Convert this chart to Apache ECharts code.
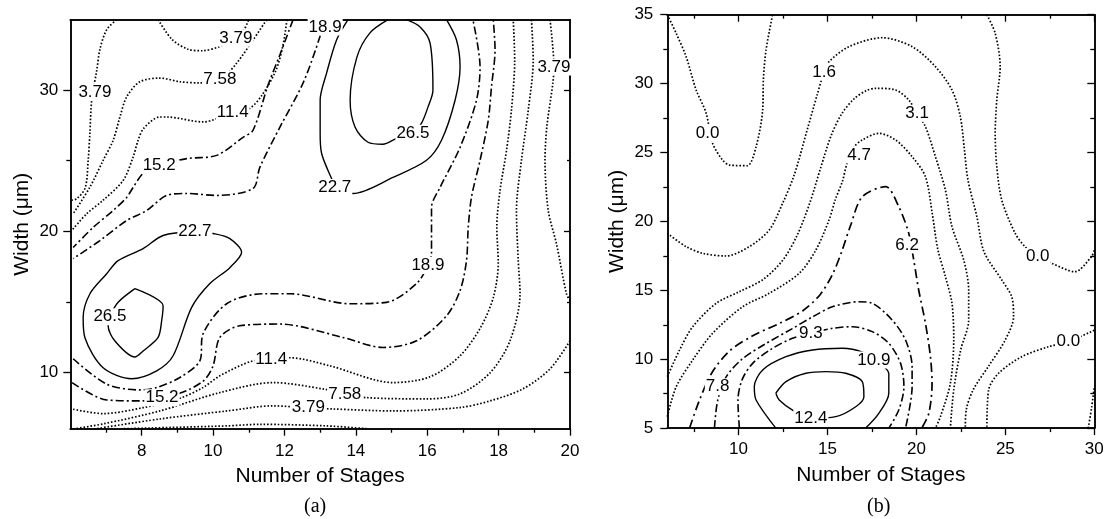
<!DOCTYPE html>
<html>
<head>
<meta charset="utf-8">
<script src="https://cdn.jsdelivr.net/npm/echarts@6/dist/echarts.min.js"></script>
<style>
  html, body { margin: 0; padding: 0; background: #fff; }
  #chart { width: 1108px; height: 519px; }
</style>
</head>
<body>
<div id="chart"></div>
<script>
// ---------- panel (a): contour lines, [stages, width] ----------
const a379Left  = [[7.3,35],[7.02,34.3],[6.83,32.9],[6.74,31.4],[6.6,29.3],[6.55,27],[6.5,25],[6.42,23.1],[6.18,22.3],[6.0,22.2]];
const a379Top   = [[8.46,35],[8.85,33.6],[9.3,32.9],[9.7,32.8],[10.2,33.1],[10.7,33.6],[11.0,35]];
const a758Top   = [[11.5,35],[11.12,33.56],[10.66,31.92],[10.22,30.79],[9.63,30.52],[9.07,30.6],[8.51,30.86],[7.95,30.6],[7.58,29.53],[7.39,28.1],[7.2,26.45],[6.92,25.03],[6.55,23.13],[6.08,21.24]];
const a114Top   = [[12.07,35],[11.96,33.2],[11.76,31.4],[11.37,29.65],[11.03,28.72],[10.56,28.44],[9.72,27.75],[8.7,28.1],[8.5,28.1],[8.05,27.28],[7.9,26.45],[7.76,25.26],[7.48,23.6],[6.92,22.2],[6.46,21.24],[6.04,20.05]];
const a152Top   = [[12.24,35],[11.87,32.5],[11.54,30.36],[11.12,27.16],[10.84,26.66],[10.1,25.38],[9.26,25.15],[8.48,24.67],[8.04,24.1],[7.76,23.11],[7.58,22.4],[7.2,21.47],[6.64,20.27],[6.08,18.85]];
const a189Top   = [[13.1,35],[12.99,33.77],[12.52,30.5],[11.87,27.37],[11.31,24.53],[11.12,23.04],[10.1,22.54],[9.26,22.68],[8.7,22.54],[8.14,21.47],[7.58,20.76],[6.83,19.34],[6.08,18.06]];
const a227Top   = [[13.78,35],[13.46,33.56],[13.18,31.21],[13.0,29.29],[13.0,26.95],[13.04,25.53],[13.28,23.97],[13.47,23.11],[13.92,22.68],[15.04,23.82],[15.98,25.03],[16.4,26.45],[16.78,29.29],[16.92,31.64],[16.82,33.56],[16.54,35]];
const a265Top   = [[14.9,35],[14.39,34.05],[14.03,32.35],[13.84,29.29],[13.98,27.37],[14.34,26.31],[14.76,26.17],[15.14,26.59],[15.6,26.95],[15.84,27.66],[16.02,28.8],[16.16,30.0],[16.08,33.34],[15.8,34.48],[15.42,35]];
const a265Low   = [[7.81,15.93],[8.6,14.72],[8.56,13.66],[8.46,12.47],[8.04,11.51],[7.81,11.08],[7.25,12.22],[7.06,13.3],[7.11,13.94],[7.34,14.96],[7.81,15.93]];
const a227Low   = [[9.49,20.0],[8.6,19.7],[8.04,18.77],[7.34,17.92],[7.02,16.99],[6.55,15.57],[6.36,13.87],[6.41,12.45],[6.92,10.32],[7.72,9.54],[8.42,10.1],[8.88,11.17],[9.4,14.6],[9.91,16.29],[10.47,17.42],[10.8,18.51],[10.47,19.48],[10.0,19.84],[9.49,20.0]];
const a189Low   = [[6.08,10.96],[7.02,9.16],[7.95,8.75],[8.42,8.92],[9.07,9.63],[9.63,10.81],[9.72,12.73],[10.38,14.86],[11.4,15.57],[12.15,15.57],[13.83,14.86],[14.86,14.96],[15.7,16.29],[16.02,17.57],[16.12,18.42],[16.12,21.69],[16.36,23.11],[16.92,25.95],[17.38,29.29],[17.48,31.64],[17.28,35]];
const a152Low   = [[6.05,9.27],[7.02,8.04],[7.95,7.97],[9.02,8.47],[9.73,9.39],[10.0,10.46],[10.19,12.47],[10.75,13.3],[11.87,13.42],[13.64,12.47],[14.76,11.76],[15.7,12.23],[16.54,14.0],[16.92,15.79],[17.1,17.92],[17.15,20.29],[17.24,22.42],[17.48,25.03],[17.71,27.87],[17.8,30.24],[17.9,32.85],[17.85,35]];
const a114Low   = [[6.08,7.38],[6.92,7.07],[8.04,7.49],[9.02,8.11],[9.72,8.92],[10.19,9.75],[11.12,10.81],[12.16,11.03],[13.27,10.46],[15.04,9.27],[16.08,9.68],[16.92,11.17],[17.5,13.2],[17.85,15.3],[17.99,17.7],[17.95,20.3],[18.04,22.9],[18.22,25.7],[18.36,28.6],[18.45,32.1],[18.41,35]];
const a758Low   = [[6.08,5.98],[6.92,6.34],[8.51,7.26],[10.19,8.56],[11.68,9.27],[13.08,8.82],[13.69,8.47],[14.31,8.2],[15.99,8.11],[16.92,8.47],[17.76,9.96],[18.32,12.24],[18.6,15.58],[18.55,17.92],[18.5,21.47],[18.64,25.03],[18.83,28.58],[18.97,32.14],[18.92,35]];
const a379Right = [[19.44,35],[19.55,31.64],[19.52,30.5],[19.35,27.4],[19.3,25.03],[19.39,21.47],[19.62,19.12],[19.9,15.58],[20,15.08]];
const a379Low   = [[20,12.23],[19.44,10.24],[18.68,8.82],[17.76,7.97],[16.92,7.5],[15.04,7.26],[13.36,7.4],[12.69,7.47],[11.68,7.62],[10.39,7.26],[8.51,6.69],[6.55,5.93]];
const a0Low     = [[7.5,6],[10.38,6.2],[11.31,6.31],[13.18,6.2],[14.3,6]];

const aLabels = [
  [6.69,29.88,'3.79'],[10.64,33.68,'3.79'],[10.19,30.76,'7.58'],[10.55,28.46,'11.4'],
  [8.49,24.67,'15.2'],[13.14,34.48,'18.9'],[13.41,23.11,'22.7'],[15.6,26.95,'26.5'],
  [7.11,13.94,'26.5'],[9.49,20.0,'22.7'],[16.02,17.57,'18.9'],[8.57,8.2,'15.2'],
  [11.63,10.94,'11.4'],[13.69,8.45,'7.58'],[12.67,7.5,'3.79'],[19.55,31.64,'3.79']
];

// ---------- panel (b): contour lines, [stages, width] ----------
const b00TopLeft  = [[6.0,35],[6.5,33.65],[7.06,31.95],[7.62,29.54],[8.18,27.87],[8.54,25.69],[9.1,24.46],[9.49,24.09],[10.49,24.04],[10.99,25.42],[11.36,28.08],[11.4,30.26],[11.55,32.44],[11.92,35]];
const b16         = [[6.0,19.14],[7.06,18.17],[8.0,17.68],[9.3,17.49],[10.6,18.16],[11.73,19.38],[12.48,21.31],[13.13,23.35],[13.86,26.63],[14.42,29.17],[14.81,30.84],[15.09,31.59],[16.21,32.68],[18.08,33.33],[19.76,32.68],[21.07,31.23],[22.0,29.54],[22.47,27.6],[22.7,25.2],[22.9,23.0],[23.4,20.34],[23.8,17.8],[24.8,15.75],[25.36,14.53],[25.46,13.08],[24.99,11.39],[24.06,9.5],[23.2,7.8],[22.8,6.3],[22.75,5.0]];
const b31         = [[6.0,8.73],[6.69,10.67],[7.43,12.36],[8.75,14.06],[10.05,14.9],[11.4,15.8],[12.5,17.2],[13.3,19.0],[14.0,21.3],[14.6,23.8],[15.2,26.2],[15.8,27.8],[16.5,28.9],[17.2,29.5],[17.71,29.66],[18.83,29.54],[19.57,28.81],[20.04,27.84],[20.51,26.87],[21.07,24.7],[21.63,22.28],[22.0,19.62],[22.66,17.2],[22.94,15.02],[22.94,12.84],[22.49,10.67],[22.1,7.77],[21.91,5.0]];
const b47         = [[6.0,5.83],[6.5,8.0],[7.43,9.94],[8.55,11.88],[10.24,13.81],[11.73,14.78],[13.41,16.23],[14.35,17.92],[15.09,20.1],[15.45,21.6],[15.84,22.9],[16.1,24.2],[16.5,25.4],[16.96,25.91],[17.89,26.39],[18.83,25.91],[19.76,24.7],[20.51,23.24],[20.9,20.5],[21.2,18.0],[21.63,16.0],[22.0,14.06],[22.1,11.5],[21.91,8.25],[21.35,5.83],[21.07,5.0]];
const b62         = [[7.25,5.0],[7.8,7.0],[8.5,9.0],[9.5,10.6],[10.8,11.7],[12.3,12.6],[13.6,13.5],[14.6,14.7],[15.3,16.2],[15.8,17.8],[16.3,19.7],[16.96,21.79],[18.27,22.52],[19.01,21.07],[19.57,19.14],[19.85,17.2],[20.13,15.02],[20.51,12.6],[20.79,10.18],[20.88,8.25],[20.7,6.07],[20.3,5.0]];
const b78         = [[8.65,5.0],[8.83,7.0],[9.3,8.7],[10.2,10.0],[11.5,11.1],[13.0,12.2],[14.2,13.1],[15.28,13.8],[16.77,14.17],[17.52,14.06],[18.64,12.84],[19.39,11.39],[19.76,9.46],[19.76,8.0],[19.39,5.0]];
const b93         = [[10.05,5.0],[9.97,7.0],[10.2,8.5],[10.8,9.7],[11.8,10.7],[13.0,11.5],[14.07,11.88],[15.28,12.24],[16.4,12.36],[17.52,12.0],[18.45,11.15],[19.11,9.7],[19.3,8.0],[19.01,6.31],[18.45,5.0]];
const b109        = [[12.1,5.0],[10.99,7.04],[10.89,8.0],[11.36,9.22],[12.67,10.18],[14.16,10.67],[15.84,10.79],[17.0,10.5],[17.61,9.94],[18.45,8.98],[18.45,7.53],[17.89,6.07],[17.15,5.0]];
const b124        = [[12.1,7.53],[12.67,8.37],[13.79,8.98],[14.91,9.1],[16.03,8.98],[16.96,8.37],[17.05,7.28],[16.59,6.55],[15.47,5.83],[14.07,5.71],[13.04,6.31],[12.29,7.04],[12.1,7.53]];
const b00TopRight = [[23.96,35],[24.43,33.65],[24.71,31.23],[24.52,28.81],[24.43,26.39],[24.52,23.97],[24.8,21.55],[25.55,19.14],[26.11,18.16],[26.8,17.44],[27.6,16.96],[28.91,16.35],[29.84,17.44],[30,17.9]];
const b00LowRight = [[30,12.1],[29.84,12.0],[28.54,11.27],[27.42,10.9],[25.92,10.18],[24.62,8.98],[24.06,7.77],[23.96,5.0]];
const b00Corner   = [[29.66,5.0],[29.85,6.5],[30,8.0]];

const bLabels = [
  [8.27,26.4,'0.0'],[14.81,30.84,'1.6'],[20.04,27.84,'3.1'],[16.78,24.82,'4.7'],
  [19.48,18.29,'6.2'],[26.82,17.44,'0.0'],[28.54,11.27,'0.0'],[8.83,8.0,'7.8'],
  [14.07,11.88,'9.3'],[17.61,9.94,'10.9'],[14.07,5.71,'12.4']
];

// ---------- axis ticks ----------
const aXMajor = [8, 10, 12, 14, 16, 18, 20];
const aXMinor = [7, 9, 11, 13, 15, 17, 19];
const aYMajor = [10, 20, 30];
const aYMinor = [15, 25];
const bXMajor = [10, 15, 20, 25, 30];
const bXMinor = [7.5, 12.5, 17.5, 22.5, 27.5];
const bYMajor = [5, 10, 15, 20, 25, 30, 35];
const bYMinor = [7.5, 12.5, 17.5, 22.5, 27.5, 32.5];

const FONT = 'Liberation Sans, Arial, Helvetica, sans-serif';
const INK = '#000';

var chart = echarts.init(document.getElementById('chart'), null, { renderer: 'canvas' });

// one axis: ticks only where we say, labels optional
function axis(gridIndex, position, min, max, ticks, len, inside, withLabels, name) {
  var a = {
    type: 'value',
    gridIndex: gridIndex,
    position: position,
    offset: 0,
    min: min,
    max: max,
    axisLine: { show: true, onZero: false, lineStyle: { color: INK, width: 1.5 } },
    axisTick: { show: true, inside: inside, length: len, customValues: ticks, lineStyle: { color: INK, width: 1.3 } },
    axisLabel: { show: withLabels, customValues: ticks, color: INK, fontFamily: FONT, fontSize: 17, margin: 11 },
    splitLine: { show: false }
  };
  if (name) {
    a.name = name;
    a.nameLocation = 'middle';
    a.nameTextStyle = { color: INK, fontFamily: FONT, fontSize: 21 };
  }
  return a;
}

var xAxes = [
  axis(0, 'bottom', 6, 20, aXMajor, 7, false, true, 'Number of Stages'),
  axis(0, 'bottom', 6, 20, aXMinor, 4, false, false),
  axis(0, 'top', 6, 20, [], 0, true, false),
  axis(0, 'top', 6, 20, [], 0, true, false),
  axis(1, 'bottom', 6, 30, bXMajor, 7, false, true, 'Number of Stages'),
  axis(1, 'bottom', 6, 30, bXMinor, 4, false, false),
  axis(1, 'top', 6, 30, bXMajor, 7, true, false),
  axis(1, 'top', 6, 30, bXMinor, 4, true, false)
];
xAxes[0].nameGap = 37;
xAxes[0].axisLabel.margin = 14;
xAxes[4].nameGap = 37;
xAxes[4].axisLabel.margin = 13;

var yAxes = [
  axis(0, 'left', 6, 35, aYMajor, 7, false, true, 'Width (\u03bcm)'),
  axis(0, 'left', 6, 35, aYMinor, 4, false, false),
  axis(0, 'right', 6, 35, aYMajor, 6, true, false),
  axis(0, 'right', 6, 35, aYMinor, 3, true, false),
  axis(1, 'left', 5, 35, bYMajor, 7, false, true, 'Width (\u03bcm)'),
  axis(1, 'left', 5, 35, bYMinor, 4, false, false),
  axis(1, 'right', 5, 35, bYMajor, 7, true, false),
  axis(1, 'right', 5, 35, bYMinor, 4, true, false)
];
yAxes[0].nameGap = 38;
yAxes[0].axisLabel.margin = 12;
yAxes[4].nameGap = 40;
yAxes[4].axisLabel.margin = 14;

var DOT = { color: INK, width: 1.7, type: [1.6, 1.9] };
var DASHDOT = { color: INK, width: 1.6, type: [8, 3, 2, 3] };
var LONGDASH = { color: INK, width: 1.7, type: [9, 4, 2, 4] };
var SOLID = { color: INK, width: 1.4, type: 'solid' };

function line(data, style, panel) {
  return {
    type: 'line', xAxisIndex: panel * 4, yAxisIndex: panel * 4,
    data: data, symbol: 'none', smooth: 0.3, silent: true, clip: true,
    lineStyle: style, z: 2
  };
}

// contour values written on the lines, on a white patch
function labels(data, panel) {
  return {
    type: 'scatter', xAxisIndex: panel * 4, yAxisIndex: panel * 4,
    data: data, symbol: 'rect', symbolSize: 1, silent: true, z: 5,
    itemStyle: { color: '#fff' },
    label: {
      show: true, position: 'inside', formatter: function (p) { return p.value[2]; },
      color: '#000', opacity: 1, textBorderWidth: 0, fontFamily: FONT, fontSize: 17,
      backgroundColor: '#fff', padding: [0, 1]
    }
  };
}

var series = [
  line(a379Left, DOT, 0), line(a379Top, DOT, 0), line(a758Top, DOT, 0), line(a114Top, DOT, 0),
  line(a152Top, DASHDOT, 0), line(a189Top, DASHDOT, 0), line(a227Top, SOLID, 0), line(a265Top, SOLID, 0),
  line(a265Low, SOLID, 0), line(a227Low, SOLID, 0), line(a189Low, DASHDOT, 0), line(a152Low, DASHDOT, 0),
  line(a114Low, DOT, 0), line(a758Low, DOT, 0), line(a379Right, DOT, 0), line(a379Low, DOT, 0), line(a0Low, DOT, 0),
  labels(aLabels, 0),
  line(b00TopLeft, DOT, 1), line(b16, DOT, 1), line(b31, DOT, 1), line(b47, DOT, 1),
  line(b62, LONGDASH, 1), line(b78, DASHDOT, 1), line(b93, DASHDOT, 1), line(b109, SOLID, 1), line(b124, SOLID, 1),
  line(b00TopRight, DOT, 1), line(b00LowRight, DOT, 1), line(b00Corner, DOT, 1),
  labels(bLabels, 1)
];

chart.setOption({
  backgroundColor: '#fff',
  animation: false,
  grid: [
    { left: 70.3, top: 19.7, width: 499.7, height: 409 },
    { left: 667.3, top: 14.7, width: 427, height: 413.4 }
  ],
  xAxis: xAxes,
  yAxis: yAxes,
  series: series,
  graphic: [
    { type: 'text', left: 304, top: 497, style: { text: '(a)', font: '20px "Liberation Serif", "Times New Roman", serif', fill: INK } },
    { type: 'text', left: 867, top: 497, style: { text: '(b)', font: '20px "Liberation Serif", "Times New Roman", serif', fill: INK } }
  ]
});
</script>
</body>
</html>
